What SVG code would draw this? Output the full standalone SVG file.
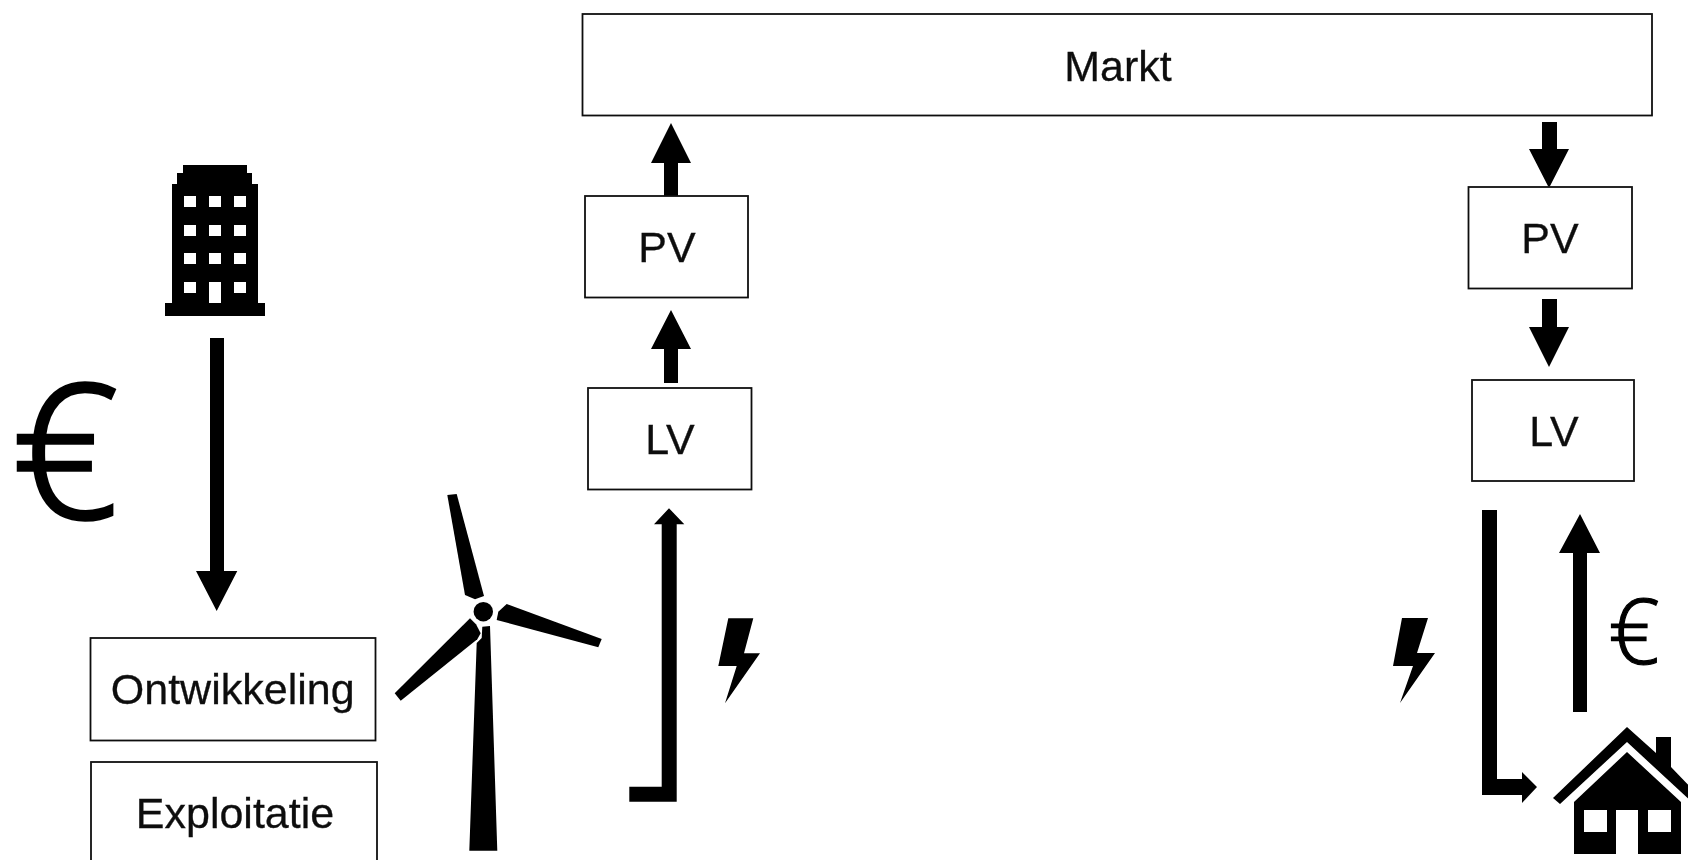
<svg xmlns="http://www.w3.org/2000/svg" width="1688" height="860" viewBox="0 0 1688 860">
<style>
.box{fill:#fff;stroke:#111;stroke-width:1.8}
.lbl{font-family:"Liberation Sans",Arial,sans-serif;font-size:43px;fill:#111;stroke:#111;stroke-width:.3;text-anchor:middle}
.eur{font-family:"Open Sans","Noto Sans",sans-serif;font-weight:300;fill:#000;stroke:#000;text-anchor:middle}
.ico{fill:#000}
.win{fill:#fff}
</style>
<defs><filter id="soft" x="0" y="0" width="1" height="1" filterUnits="objectBoundingBox"><feGaussianBlur stdDeviation="0.55"/></filter></defs>
<rect width="1688" height="860" fill="#fff"/>
<g id="diagram" filter="url(#soft)">
<rect width="1688" height="860" fill="#fff"/>
<g id="connectors" class="ico">
<polygon id="a-lv-pv-l" points="664,383 664,349 651,349 671,310 691,349 678,349 678,383"/>
<polygon id="a-pv-markt-l" points="664,196 664,163 651,163 671,123 691,163 678,163 678,196"/>
<polygon id="a-markt-pv-r" points="1542,122 1557,122 1557,149 1569,149 1549,188 1529,149 1542,149"/>
<polygon id="a-pv-lv-r" points="1542,299 1557,299 1557,327 1569,327 1549,367 1529,327 1542,327"/>
<polygon id="a-building" points="210,338 224,338 224,571 237.300,571 216.700,611 196,571 210,571"/>
<polygon id="a-wind-lv" points="629.300,786.700 661.700,786.700 661.700,524.300 654,524.300 669,508.300 684.300,524.300 676.700,524.300 676.700,801.700 629.300,801.700"/>
<polygon id="a-lv-house" points="1482,510 1497,510 1497,779 1522,779 1522,772 1537,787 1522,803 1522,795 1482,795"/>
<polygon id="a-house-lv" points="1573,712 1573,553 1559,553 1580,514 1600,553 1587,553 1587,712"/>
</g>
<g id="node-markt"><rect class="box" x="582.500" y="14" width="1069.500" height="101.500"/><text class="lbl" x="1118" y="81">Markt</text></g>
<g id="node-pv-left"><rect class="box" x="585" y="196" width="163" height="101.500"/><text class="lbl" x="667" y="262">PV</text></g>
<g id="node-lv-left"><rect class="box" x="588" y="388" width="163.500" height="101.500"/><text class="lbl" x="670" y="454">LV</text></g>
<g id="node-pv-right"><rect class="box" x="1468.500" y="187" width="163.500" height="101.500"/><text class="lbl" x="1550" y="253">PV</text></g>
<g id="node-lv-right"><rect class="box" x="1472" y="380" width="162" height="101"/><text class="lbl" x="1554" y="446">LV</text></g>
<g id="node-ontwikkeling"><rect class="box" x="90.500" y="638" width="285" height="102.500"/><text class="lbl" x="232.700" y="704">Ontwikkeling</text></g>
<g id="node-exploitatie"><rect class="box" x="91" y="762" width="286" height="102"/><text class="lbl" x="235" y="828">Exploitatie</text></g>
<g id="icon-building" class="ico">
<path d="M183 165H247V173H252V184H258V303H265V316H165V303H172V184H177V173H183Z"/>
<g class="win">
<rect x="184" y="196" width="12" height="11"/><rect x="209" y="196" width="12" height="11"/><rect x="234" y="196" width="12" height="11"/>
<rect x="184" y="225" width="12" height="11"/><rect x="209" y="225" width="12" height="11"/><rect x="234" y="225" width="12" height="11"/>
<rect x="184" y="253" width="12" height="11"/><rect x="209" y="253" width="12" height="11"/><rect x="234" y="253" width="12" height="11"/>
<rect x="184" y="282" width="12" height="11"/><rect x="209" y="282" width="12" height="21"/><rect x="234" y="282" width="12" height="11"/>
</g>
</g>
<g id="icon-turbine" class="ico">
<circle cx="483.300" cy="611.700" r="9.700"/>
<polygon points="469.300,850.700 476.700,643 481.700,638 482.300,626.700 490,626 497.300,850.700"/>
<polygon points="447.300,495 456.700,494 484,596 475,599.300 465,595"/>
<polygon points="506.700,604 601.700,639 598.300,647.300 496.700,620 498.300,611.700"/>
<polygon points="394.700,693.300 470,618.300 476,624.300 480.700,633.300 477.300,639.300 400.700,700.700"/>
</g>
<g id="icon-bolt-left" class="ico"><polygon points="728.300,618.300 753.300,618.300 744,653.300 760,653.300 725,703.300 736.700,666 718.300,666"/></g>
<g id="icon-bolt-right" class="ico"><polygon points="1402,618 1428,618 1417,653 1435,653 1400,703 1413,666 1393,666"/></g>
<g id="icon-house" class="ico">
<path d="M1627 727 1656 753V737H1671V767L1701 798 1694 804 1627 742 1560 804 1553 798Z"/>
<path fill-rule="evenodd" d="M1627 752 1681 802V854H1638V810H1616V854H1574V802ZM1584 810V832H1607V810ZM1648 810V832H1671V810Z"/>
</g>
<text id="euro-large" class="eur" x="65" y="518" font-size="187" stroke-width="3.500">€</text>
<text id="euro-small" class="eur" x="1634" y="664" font-size="90" stroke-width="1.200">€</text>
</g>
</svg>
